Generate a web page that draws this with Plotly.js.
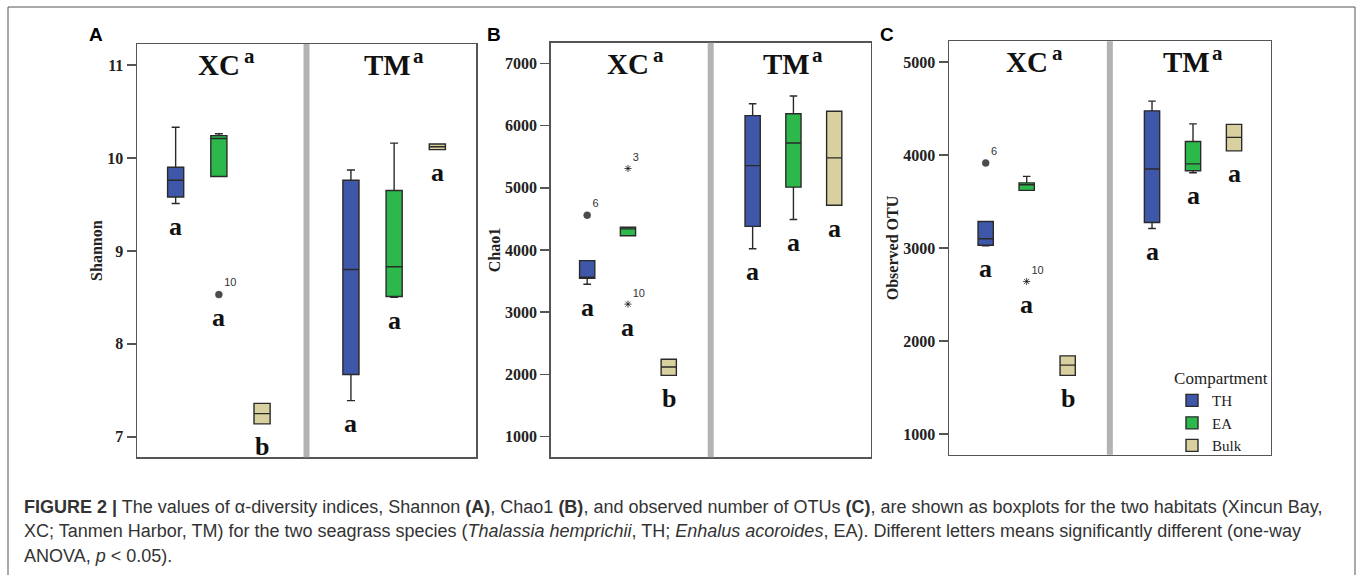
<!DOCTYPE html>
<html>
<head>
<meta charset="utf-8">
<script src="https://cdn.plot.ly/plotly-3.0.1.min.js"></script>
<style>
html,body{margin:0;padding:0;background:#fff;}
#chart{width:1357px;height:575px;}
</style>
</head>
<body>
<div id="chart"></div>
<script>
// ---------- data ----------
const habitats = ['XC', 'TM'];
const habitatLetters = ['a', 'a'];
const compartments = ['TH', 'EA', 'Bulk'];

// rows: TH, EA, Bulk ; columns: XC, TM
const shannonLow  = [[9.51, 7.39], [9.80, 8.50], [7.14, 10.09]];
const shannonQ1   = [[9.58, 7.67], [9.80, 8.51], [7.14, 10.09]];
const shannonMed  = [[9.76, 8.80], [10.21, 8.83], [7.25, 10.12]];
const shannonQ3   = [[9.90, 9.76], [10.24, 9.65], [7.36, 10.15]];
const shannonHigh = [[10.33, 9.87], [10.26, 10.16], [7.36, 10.15]];
const shannonLetters = [['a', 'a'], ['a', 'a'], ['b', 'a']];
const shannonOutHabitat = ['XC'];
const shannonOutComp = ['EA'];
const shannonOutValue = [8.53];
const shannonOutId = ['10'];
const shannonOutKind = ['circle'];

const chaoLow  = [[3450, 4020], [4230, 4490], [1985, 4720]];
const chaoQ1   = [[3545, 4380], [4230, 5010], [1985, 4720]];
const chaoMed  = [[3558, 5355], [4340, 5720], [2120, 5480]];
const chaoQ3   = [[3830, 6160], [4365, 6190], [2245, 6230]];
const chaoHigh = [[3830, 6350], [4365, 6475], [2245, 6230]];
const chaoLetters = [['a', 'a'], ['a', 'a'], ['b', 'a']];
const chaoOutHabitat = ['XC', 'XC', 'XC'];
const chaoOutComp = ['TH', 'EA', 'EA'];
const chaoOutValue = [4560, 5310, 3130];
const chaoOutId = ['6', '3', '10'];
const chaoOutKind = ['circle', 'star', 'star'];

const otuLow  = [[3025, 3210], [3620, 3810], [1630, 4045]];
const otuQ1   = [[3030, 3275], [3620, 3830], [1630, 4045]];
const otuMed  = [[3100, 3850], [3680, 3905], [1740, 4190]];
const otuQ3   = [[3285, 4475], [3700, 4145], [1840, 4330]];
const otuHigh = [[3285, 4580], [3770, 4335], [1840, 4330]];
const otuLetters = [['a', 'a'], ['a', 'a'], ['b', 'a']];
const otuOutHabitat = ['XC', 'XC'];
const otuOutComp = ['TH', 'EA'];
const otuOutValue = [3915, 2640];
const otuOutId = ['6', '10'];
const otuOutKind = ['circle', 'star'];

const panelLabels = ['A', 'B', 'C'];
const yTitles = ['Shannon', 'Chao1', 'Observed OTU'];

// ---------- styling ----------
const W = 1357, H = 575;
const compColors = ['#3e57a8', '#2db84b', '#d8d09e'];
const SERIF = 'Liberation Serif, Times New Roman, serif';
const SANS = 'Liberation Sans, Arial, sans-serif';
const STEP = 0.2465;      // distance between neighbouring compartment boxes (axis units)
const BOXW = 0.092;       // box width (axis units)
const XRANGE = [-0.467, 1.467];
const pos = (hi, ci) => hi + (ci - 1) * STEP;

const panels = [
  {low: shannonLow, q1: shannonQ1, med: shannonMed, q3: shannonQ3, high: shannonHigh, letters: shannonLetters,
   oh: shannonOutHabitat, oc: shannonOutComp, ov: shannonOutValue, oid: shannonOutId, ok: shannonOutKind,
   xpx: [137, 476], ypx: [44, 457.3], range: [6.78, 11.226], dtick: 1, tick0: 7, labelPx: [95.5, 35]},
  {low: chaoLow, q1: chaoQ1, med: chaoMed, q3: chaoQ3, high: chaoHigh, letters: chaoLetters,
   oh: chaoOutHabitat, oc: chaoOutComp, ov: chaoOutValue, oid: chaoOutId, ok: chaoOutKind,
   xpx: [550.7, 870.7], ypx: [42.7, 457.3], range: [669, 7331], dtick: 1000, tick0: 1000, labelPx: [494, 35]},
  {low: otuLow, q1: otuQ1, med: otuMed, q3: otuQ3, high: otuHigh, letters: otuLetters,
   oh: otuOutHabitat, oc: otuOutComp, ov: otuOutValue, oid: otuOutId, ok: otuOutKind,
   xpx: [949, 1270.7], ypx: [41.3, 454.7], range: [777, 5223], dtick: 1000, tick0: 1000, labelPx: [887.3, 35]}
];

const traces = [];
const annotations = [];
const shapes = [];
const layout = {
  width: W, height: H,
  margin: {l: 0, r: 0, t: 0, b: 0},
  paper_bgcolor: '#fff', plot_bgcolor: '#fff',
  boxmode: 'overlay',
  showlegend: true,
  legend: {
    x: 1172 / W, xanchor: 'left', y: 1 - 362 / H, yanchor: 'top',
    bgcolor: 'rgba(0,0,0,0)', borderwidth: 0,
    font: {family: SERIF, size: 15, color: '#222'},
    title: {text: 'Compartment', side: 'top center', font: {family: SERIF, size: 17, color: '#222'}},
    tracegroupgap: 0, itemwidth: 30, traceorder: 'normal'
  },
  annotations: annotations,
  shapes: shapes
};

panels.forEach((p, k) => {
  const s = k === 0 ? '' : String(k + 1);
  const xa = 'x' + s, ya = 'y' + s;
  layout['xaxis' + s] = {
    anchor: ya,
    domain: [p.xpx[0] / W, p.xpx[1] / W], range: XRANGE, type: 'linear',
    showline: true, mirror: true, linecolor: '#555', linewidth: 1.5,
    showticklabels: false, ticks: '', showgrid: false, zeroline: false, fixedrange: true
  };
  layout['yaxis' + s] = {
    anchor: xa,
    domain: [1 - p.ypx[1] / H, 1 - p.ypx[0] / H], range: p.range,
    showline: true, mirror: true, linecolor: '#555', linewidth: 1.5,
    ticks: 'outside', ticklen: 9, tickwidth: 1.5, tickcolor: '#555',
    tick0: p.tick0, dtick: p.dtick, showgrid: false, zeroline: false, fixedrange: true,
    tickfont: {family: SERIF, size: 16, color: '#222', weight: 'bold'},
    title: {text: yTitles[k], font: {family: SERIF, size: 16, color: '#222', weight: 'bold'}, standoff: 0}
  };

  compartments.forEach((c, ci) => {
    traces.push({
      type: 'box', name: c, xaxis: xa, yaxis: ya,
      x: habitats.map((h, hi) => pos(hi, ci)),
      lowerfence: p.low[ci], q1: p.q1[ci], median: p.med[ci], q3: p.q3[ci], upperfence: p.high[ci],
      width: BOXW,
      fillcolor: compColors[ci], line: {color: '#2a2a2a', width: 1.4},
      whiskerwidth: 0.5, boxpoints: false,
      showlegend: k === 2, hoverinfo: 'y'
    });
  });

  // outliers
  traces.push({
    type: 'scatter', mode: 'markers+text', xaxis: xa, yaxis: ya, showlegend: false,
    x: p.oh.map((h, i) => pos(habitats.indexOf(h), compartments.indexOf(p.oc[i]))),
    y: p.ov,
    text: p.oid, textposition: 'top right',
    textfont: {family: SANS, size: 11, color: '#333'},
    marker: {
      symbol: p.ok.map(v => v === 'star' ? 'asterisk-open' : 'circle'),
      size: p.ok.map(v => v === 'star' ? 6 : 7),
      color: '#000',
      line: {color: p.ok.map(v => v === 'star' ? '#444' : '#000'), width: p.ok.map(v => v === 'star' ? 1 : 0.5)}
    },
    cliponaxis: false, hoverinfo: 'y'
  });

  // significance letters under each box
  compartments.forEach((c, ci) => {
    habitats.forEach((h, hi) => {
      let lowest = p.low[ci][hi];
      p.ov.forEach((v, i) => { if (p.oh[i] === h && p.oc[i] === c) lowest = Math.min(lowest, v); });
      annotations.push({
        xref: xa, yref: ya, x: pos(hi, ci), y: lowest,
        yanchor: 'middle', yshift: -23, showarrow: false,
        text: p.letters[ci][hi], font: {family: SERIF, size: 26, color: '#111', weight: 'bold'}
      });
    });
  });

  // facet titles
  habitats.forEach((h, hi) => {
    const shift = hi === 0 ? 0 : -7;
    annotations.push({
      xref: xa, yref: ya + ' domain', x: hi, y: 1, xshift: shift, yshift: -21,
      yanchor: 'middle', showarrow: false, text: h,
      font: {family: SERIF, size: 29, color: '#111', weight: 'bold'}
    });
    annotations.push({
      xref: xa, yref: ya + ' domain', x: hi, y: 1, xshift: hi === 0 ? 31 : 24, yshift: -12,
      yanchor: 'middle', showarrow: false, text: habitatLetters[hi],
      font: {family: SERIF, size: 21, color: '#111', weight: 'bold'}
    });
  });

  // divider between the two habitats
  shapes.push({
    type: 'line', xref: xa, yref: ya + ' domain', x0: 0.5, x1: 0.5, y0: 0, y1: 1,
    line: {color: '#b3b3b3', width: 6}, layer: 'above'
  });

  // panel letter
  annotations.push({
    xref: 'paper', yref: 'paper', x: p.labelPx[0] / W, y: 1 - p.labelPx[1] / H,
    xanchor: 'center', yanchor: 'middle', showarrow: false, text: panelLabels[k],
    font: {family: SANS, size: 19, color: '#000', weight: 'bold'}
  });
});

// outer frame
shapes.push({
  type: 'rect', xref: 'paper', yref: 'paper', x0: 8 / W, x1: 1355 / W, y0: -0.1, y1: 1 - 7 / H,
  line: {color: '#555', width: 1}, fillcolor: 'rgba(0,0,0,0)', layer: 'below'
});

// caption
const captionLines = [
  '<b>FIGURE 2 |</b> The values of α-diversity indices, Shannon <b>(A)</b>, Chao1 <b>(B)</b>, and observed number of OTUs <b>(C)</b>, are shown as boxplots for the two habitats (Xincun Bay,',
  'XC; Tanmen Harbor, TM) for the two seagrass species (<i>Thalassia hemprichii</i>, TH; <i>Enhalus acoroides</i>, EA). Different letters means significantly different (one-way',
  'ANOVA, <i>p</i> &lt; 0.05).'
];
const captionY = [507, 531, 556];
captionLines.forEach((t, i) => {
  annotations.push({
    xref: 'paper', yref: 'paper', x: 22 / W, y: 1 - captionY[i] / H,
    xanchor: 'left', yanchor: 'middle', align: 'left', showarrow: false, text: t,
    font: {family: SANS, size: 18, color: '#333'}
  });
});

Plotly.newPlot('chart', traces, layout, {displayModeBar: false, staticPlot: true});
</script>
</body>
</html>
